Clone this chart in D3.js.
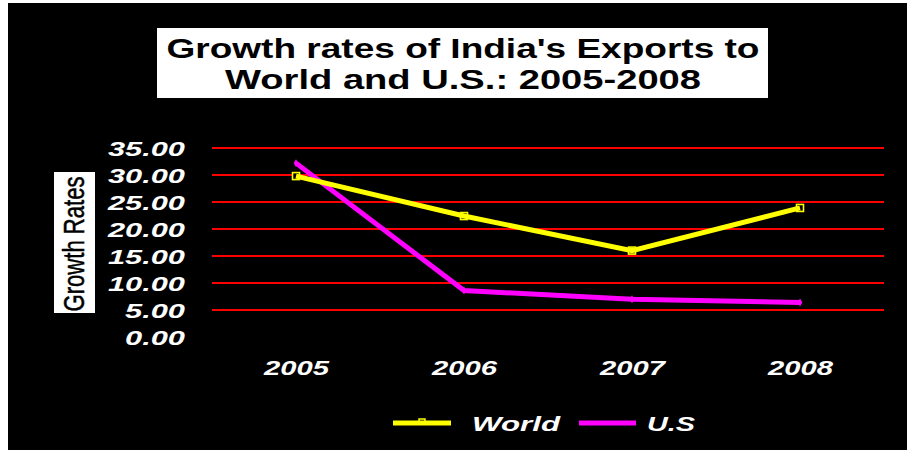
<!DOCTYPE html>
<html><head><meta charset="utf-8">
<script src="https://cdn.jsdelivr.net/npm/d3@7"></script>
<style>html,body{margin:0;padding:0;background:#fff;}svg{display:block;}</style>
</head><body>
<script>
const years = ["2005","2006","2007","2008"];
const worldValues = [29.8, 22.4, 16.0, 23.9];
const usValues = [32.2, 8.6, 7.0, 6.4];
const yTicks = [0,5,10,15,20,25,30,35];
const titleLines = ["Growth rates of India's Exports to","World and U.S.: 2005-2008"];
const yTitle = "Growth Rates";
const seriesNames = ["World","U.S"];

const W=907,H=450;
const svg=d3.select("body").append("svg").attr("width",W).attr("height",H);
svg.append("rect").attr("width",W).attr("height",H).attr("fill","#fff");
svg.append("rect").attr("x",8).attr("y",3).attr("width",W-8).attr("height",H-3).attr("fill","#000");

const x=d3.scalePoint().domain(years).range([212,884]).padding(0.5);
const y=d3.scaleLinear().domain([0,35]).range([337,148]);

// title
svg.append("rect").attr("x",157).attr("y",28).attr("width",611).attr("height",70).attr("fill","#fff");
const tl=[[58,593],[89,476]];
titleLines.forEach((t,i)=>{
  svg.append("text").attr("x",463).attr("y",tl[i][0]).attr("text-anchor","middle")
    .attr("font-family","Liberation Sans, Arial, sans-serif").attr("font-weight","bold").attr("font-size",27)
    .attr("textLength",tl[i][1]).attr("lengthAdjust","spacingAndGlyphs").attr("fill","#000").text(t);
});

// y title
svg.append("rect").attr("x",54).attr("y",172).attr("width",41).attr("height",141).attr("fill","#fff");
svg.append("text").attr("transform","translate(84,244) rotate(-90)").attr("text-anchor","middle")
  .attr("font-family","Liberation Sans Narrow, Liberation Sans, Arial, sans-serif").attr("font-size",29)
  .attr("stroke","#000").attr("stroke-width",0.5)
  .attr("textLength",135).attr("lengthAdjust","spacingAndGlyphs").attr("fill","#000").text(yTitle);

// gridlines
svg.append("g").selectAll("line").data(yTicks.filter(d=>d>0)).join("line")
  .attr("x1",212).attr("x2",884).attr("y1",d=>Math.round(y(d))).attr("y2",d=>Math.round(y(d)))
  .attr("stroke","#ff0000").attr("stroke-width",2);

// y axis labels
const yAxis=d3.axisLeft(y).tickValues(yTicks).tickFormat(d3.format(".2f")).tickSize(0).tickPadding(0);
const ya=svg.append("g").attr("transform","translate(185,0)").call(yAxis);
ya.select(".domain").remove();
ya.selectAll("text").attr("font-family","Liberation Sans, Arial, sans-serif").attr("font-weight","bold")
  .attr("font-style","italic").attr("font-size",20).attr("fill","#fff").attr("dy","0.36em")
  .attr("textLength",d=>d>=10?77:60).attr("lengthAdjust","spacingAndGlyphs");

// x axis labels
const xAxis=d3.axisBottom(x).tickSize(0).tickPadding(0);
const xa=svg.append("g").attr("transform","translate(0,360)").call(xAxis);
xa.select(".domain").remove();
xa.selectAll("text").attr("font-family","Liberation Sans, Arial, sans-serif").attr("font-weight","bold")
  .attr("font-style","italic").attr("font-size",20).attr("fill","#fff").attr("dy","0.75em")
  .attr("textLength",65).attr("lengthAdjust","spacingAndGlyphs");

// markers (under lines)
svg.append("g").selectAll("rect").data(worldValues).join("rect")
  .attr("x",(d,i)=>x(years[i])-3.5).attr("y",d=>y(d)-3.5).attr("width",7).attr("height",7)
  .attr("fill","#000").attr("stroke","#ffff00").attr("stroke-width",1.6);
svg.append("g").selectAll("path").data(usValues).join("path")
  .attr("d",d3.symbol(d3.symbolDiamond,18)).attr("transform",(d,i)=>`translate(${x(years[i])},${y(d)})`)
  .attr("fill","#ff00ff");

const line=d3.line().x((d,i)=>x(years[i])).y(d=>y(d));
svg.append("path").datum(usValues).attr("d",line).attr("fill","none").attr("stroke","#ff00ff").attr("stroke-width",5);
svg.append("path").datum(worldValues).attr("d",line).attr("fill","none").attr("stroke","#ffff00").attr("stroke-width",5);

// legend
const lg=[{x1:393,x2:451,tx:472,tl:88,c:"#ffff00"},{x1:579,x2:636,tx:647,tl:48,c:"#ff00ff"}];
lg.forEach((l,i)=>{
  if(i===0) svg.append("rect").attr("x",(l.x1+l.x2)/2-3).attr("y",419).attr("width",6).attr("height",5).attr("fill","#000").attr("stroke",l.c).attr("stroke-width",1.5);
  svg.append("line").attr("x1",l.x1).attr("x2",l.x2).attr("y1",423).attr("y2",423).attr("stroke",l.c).attr("stroke-width",5);
  svg.append("text").attr("x",l.tx).attr("y",431).attr("font-family","Liberation Sans, Arial, sans-serif")
    .attr("font-weight","bold").attr("font-style","italic").attr("font-size",21).attr("fill","#fff")
    .attr("textLength",l.tl).attr("lengthAdjust","spacingAndGlyphs").text(seriesNames[i]);
});
</script>
</body></html>
